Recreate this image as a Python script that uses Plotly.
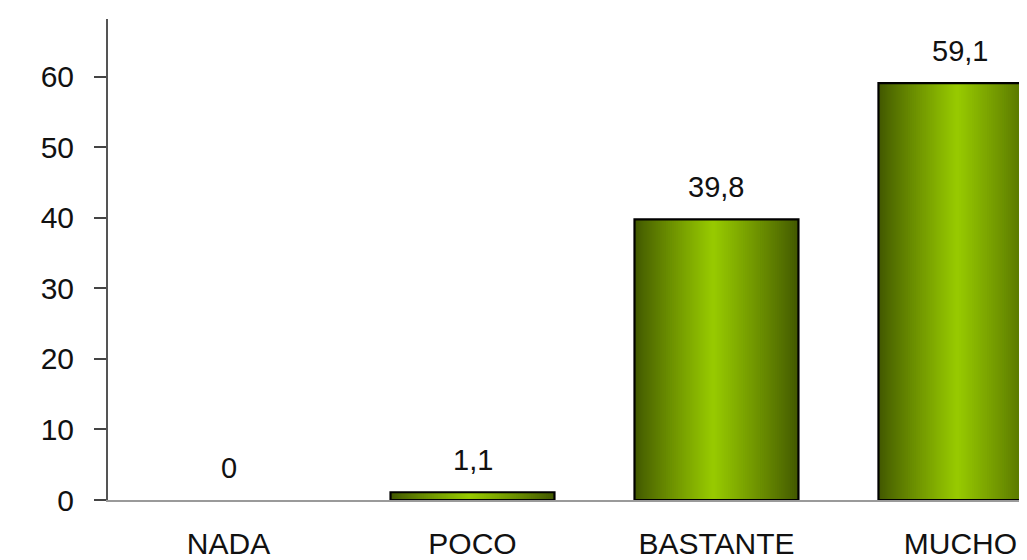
import plotly.graph_objects as go

categories = ["NADA", "POCO", "BASTANTE", "MUCHO"]
values = [0, 1.1, 39.8, 59.1]
value_labels = ["0", "1,1", "39,8", "59,1"]
y_ticks = [0, 10, 20, 30, 40, 50, 60]

FONT = "Liberation Sans, Arial, sans-serif"
BAR_W = 0.672
PEAK = 0.48
N_LAYERS = 40
DARK = (0x42, 0x58, 0x00)
BRIGHT = (0x99, 0xcc, 0x00)


def mix(a, b, t):
    return "rgb(%d,%d,%d)" % tuple(round(a[i] + (b[i] - a[i]) * t) for i in range(3))


bar_values = [v if v > 0 else None for v in values]

fig = go.Figure()
for k in range(N_LAYERS):
    t = k / N_LAYERS
    w = BAR_W * (1 - t)
    off = -BAR_W / 2 + t * PEAK * BAR_W
    fig.add_trace(go.Bar(
        x=categories, y=bar_values, width=w, offset=off,
        marker=dict(color=mix(DARK, BRIGHT, t ** 0.9), line=dict(width=0)),
        showlegend=False, hoverinfo="skip",
    ))

# outline
fig.add_trace(go.Bar(
    x=categories, y=bar_values, width=BAR_W, offset=-BAR_W / 2,
    marker=dict(color="rgba(0,0,0,0)", line=dict(color="#000000", width=2.2)),
    showlegend=False, hoverinfo="skip",
))

for c, v, lab in zip(categories, values, value_labels):
    fig.add_annotation(
        x=c, y=v, text=lab, showarrow=False, yanchor="bottom",
        yshift=14, font=dict(family=FONT, size=29, color="#111111"),
    )

fig.update_layout(
    width=1011, height=552,
    margin=dict(l=100, r=0, t=11, b=56),
    paper_bgcolor="white", plot_bgcolor="white",
    barmode="overlay",
    font=dict(family=FONT, color="#111111"),
    xaxis=dict(
        type="category", range=[-0.494, 3.24],
        showline=True, linecolor="#9a9a9a", linewidth=2,
        ticks="", showgrid=False, zeroline=False,
        tickfont=dict(family=FONT, size=30, color="#111111"),
        ticklabelstandoff=16,
    ),
    yaxis=dict(
        range=[0, 68.2], tickvals=y_ticks,
        showline=True, linecolor="#555555", linewidth=2,
        ticks="outside", ticklen=12, tickwidth=1.5, tickcolor="#444444",
        showgrid=False, zeroline=False,
        tickfont=dict(family=FONT, size=30, color="#111111"),
        ticklabelstandoff=14,
    ),
)

fig.write_html("out.html")
